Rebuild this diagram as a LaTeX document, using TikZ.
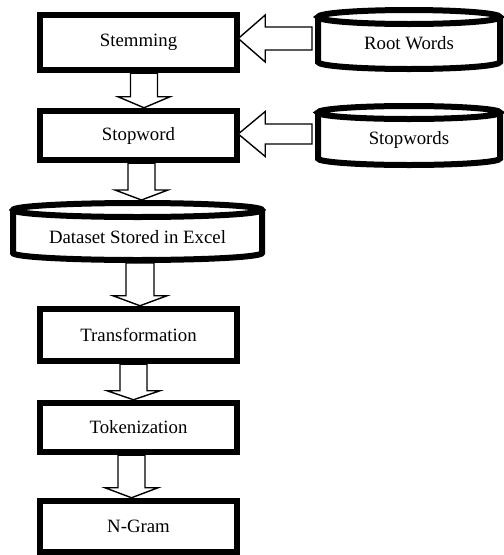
\documentclass[tikz,border=0pt]{standalone}
\usepackage{fontspec}
\setmainfont{Liberation Serif}
\usetikzlibrary{calc}
\newcommand\blkdown[6]{% from, to, x centre, shaft half, head half, head length
  \draw[blk] let \p1=(#1.south), \p2=(#2.north) in
    ({#3pt-#4pt},\y1) -- ({#3pt-#4pt},{\y2+#6pt}) -- ({#3pt-#5pt},{\y2+#6pt})
    -- (#3pt,\y2) -- ({#3pt+#5pt},{\y2+#6pt}) -- ({#3pt+#4pt},{\y2+#6pt})
    -- ({#3pt+#4pt},\y1) -- cycle;}
\newcommand\blkleft[6]{% from, to, y centre, shaft half, head half, head length
  \draw[blk] let \p1=(#1.west), \p2=(#2.east) in
    ({\x1-3pt},{-#3pt+#4pt}) -- ({\x2+#6pt},{-#3pt+#4pt}) -- ({\x2+#6pt},{-#3pt+#5pt})
    -- ({\x2-2pt},-#3pt) -- ({\x2+#6pt},{-#3pt-#5pt}) -- ({\x2+#6pt},{-#3pt-#4pt})
    -- ({\x1-3pt},{-#3pt-#4pt}) -- cycle;}
% cylinder: x centre, x radius, top ellipse centre y, bottom ellipse centre y, y radius
\newcommand\mycyl[5]{%
  \fill[white] ({#1-#2},#3) -- ({#1-#2},#4) arc[start angle=180,end angle=360,x radius=#2pt,y radius=#5pt]
    -- ({#1+#2},#3) arc[start angle=0,end angle=180,x radius=#2pt,y radius=#5pt] -- cycle;
  \draw[cylline] ({#1-#2},#3) -- ({#1-#2},#4) arc[start angle=180,end angle=360,x radius=#2pt,y radius=#5pt]
    -- ({#1+#2},#3);
  \draw[cylline] (#1,#3) ellipse[x radius=#2pt,y radius=#5pt];}
\begin{document}
\begin{tikzpicture}[x=1pt,y=-1pt,
  txt/.style={font=\fontsize{18.8}{22}\selectfont, inner sep=0pt},
  box/.style={txt, draw, line width=6.5pt, fill=white, minimum width=197pt},
  cylarea/.style={inner sep=0pt, outer sep=0pt},
  cylline/.style={line width=6pt},
  blk/.style={draw, line width=1.4pt, fill=white, line join=miter}]
\useasboundingbox[fill=white] (0,0) rectangle (504,555);

% process boxes
\node[box, minimum height=55pt] (stem) at (138.5,42.5) {Stemming};
\node[box, minimum height=49pt] (stop) at (138.5,135.5) {Stopword};
\node[box, minimum height=52pt] (trans) at (138.5,335) {Transformation};
\node[box, minimum height=49pt] (tok) at (138.5,427.5) {Tokenization};
\node[box, minimum height=51pt] (ngram) at (138.5,526.5) {N-Gram};

% data stores
\mycyl{409}{91}{17}{62}{7}
\node[cylarea, minimum width=188pt, minimum height=65pt] (rw) at (409,39.5) {};
\node[txt] (rwt) at (409,43) {Root Words};

\mycyl{409}{91}{112.5}{158.5}{6.5}
\node[cylarea, minimum width=188pt, minimum height=65pt] (sw) at (409,135.5) {};
\node[txt] (swt) at (409,140) {Stopwords};

\mycyl{137.5}{124.5}{210}{253}{7}
\node[cylarea, minimum width=255pt, minimum height=63pt] (ds) at (137.5,231.5) {};
\node[txt] (dst) at (137.5,237) {Dataset Stored in Excel};

% block arrows
\blkleft{rw}{stem}{38.5}{11.5}{23.5}{25}
\blkleft{sw}{stop}{134}{10}{22.5}{25}
\blkdown{stem}{stop}{144}{13.5}{26}{11}
\blkdown{stop}{ds}{141.5}{13.5}{26.5}{10}
\blkdown{ds}{trans}{140}{14}{27}{10}
\blkdown{trans}{tok}{133.5}{13.5}{26.5}{9}
\blkdown{tok}{ngram}{131.5}{13.5}{26.5}{10}
\end{tikzpicture}
\end{document}
